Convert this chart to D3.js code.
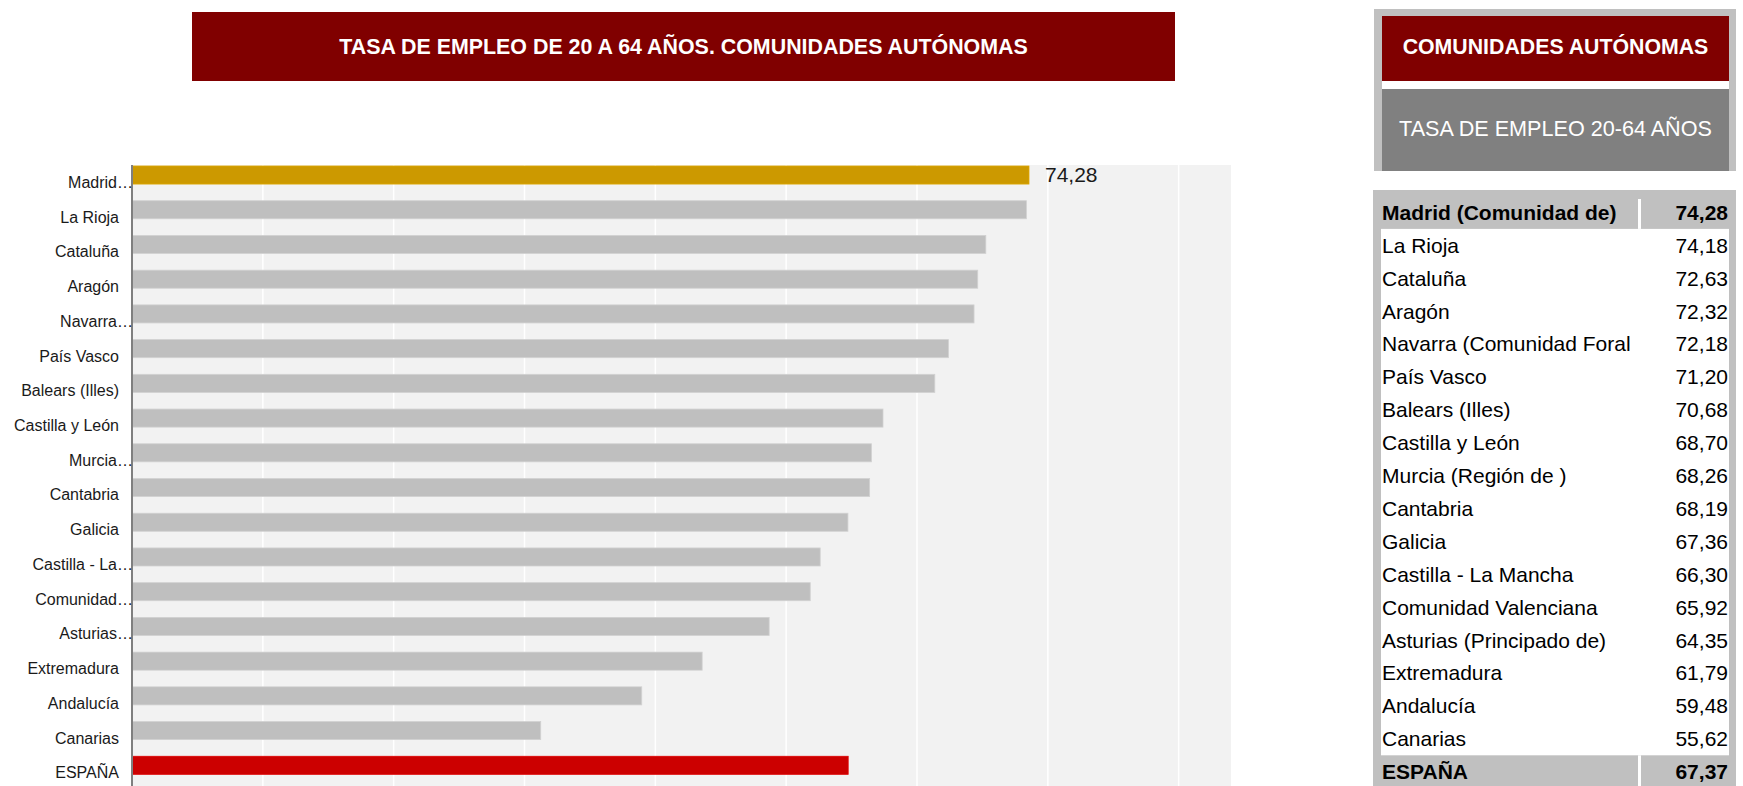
<!DOCTYPE html>
<html>
<head>
<meta charset="utf-8">
<script src="https://cdn.jsdelivr.net/npm/d3@7"></script>
<style>
  html, body { margin: 0; padding: 0; background: #ffffff; }
  svg { display: block; font-family: "Liberation Sans", Arial, sans-serif; }
</style>
</head>
<body>
<svg id="chart" width="1743" height="786"></svg>
<script>
// ---- data ----
const categories = ["Madrid (Comunidad de)", "La Rioja", "Cataluña", "Aragón",
  "Navarra (Comunidad Foral de)", "País Vasco", "Balears (Illes)", "Castilla y León",
  "Murcia (Región de )", "Cantabria", "Galicia", "Castilla - La Mancha",
  "Comunidad Valenciana", "Asturias (Principado de)", "Extremadura", "Andalucía",
  "Canarias", "ESPAÑA"];
const axisLabels = ["Madrid…", "La Rioja", "Cataluña", "Aragón", "Navarra…", "País Vasco",
  "Balears (Illes)", "Castilla y León", "Murcia…", "Cantabria", "Galicia", "Castilla - La…",
  "Comunidad…", "Asturias…", "Extremadura", "Andalucía", "Canarias", "ESPAÑA"];
const values = [74.28, 74.18, 72.63, 72.32, 72.18, 71.20, 70.68, 68.70, 68.26, 68.19,
  67.36, 66.30, 65.92, 64.35, 61.79, 59.48, 55.62, 67.37];
const valueLabels = ["74,28", "74,18", "72,63", "72,32", "72,18", "71,20", "70,68", "68,70",
  "68,26", "68,19", "67,36", "66,30", "65,92", "64,35", "61,79", "59,48", "55,62", "67,37"];
const xTicks = [45, 50, 55, 60, 65, 70, 75, 80];
const xDomain = [40, 82];
const chartTitle = "TASA DE EMPLEO DE 20 A 64 AÑOS. COMUNIDADES AUTÓNOMAS";
const panelTitle = "COMUNIDADES AUTÓNOMAS";
const panelSubtitle = "TASA DE EMPLEO 20-64 AÑOS";

const svg = d3.select("#chart");
const rows = categories.map((c, i) => ({ cat: c, label: axisLabels[i], v: values[i], txt: valueLabels[i], i }));

// ---- main title ----
svg.append("rect").attr("x", 192).attr("y", 12).attr("width", 983).attr("height", 69).attr("fill", "#800000");
svg.append("text").attr("x", 683.5).attr("y", 47).attr("dy", "0.35em")
  .attr("text-anchor", "middle").attr("fill", "#fff").attr("font-weight", "bold")
  .attr("font-size", 21.4).text(chartTitle);

// ---- chart ----
const plot = { left: 132, right: 1231, top: 165, bottom: 790 };
const x = d3.scaleLinear().domain(xDomain).range([plot.left, plot.right]);
const y = d3.scaleBand().domain(categories).range([plot.top, plot.bottom]);

svg.append("rect").attr("x", plot.left).attr("y", plot.top)
  .attr("width", plot.right - plot.left).attr("height", plot.bottom - plot.top).attr("fill", "#f2f2f2");

svg.append("g").selectAll("line").data(xTicks).join("line")
  .attr("x1", d => x(d)).attr("x2", d => x(d))
  .attr("y1", plot.top).attr("y2", plot.bottom)
  .attr("stroke", "#ffffff").attr("stroke-width", 1.5);

const barColor = d => d.i === 0 ? "#cc9900" : (d.cat === "ESPAÑA" ? "#cc0000" : "#bfbfbf");
svg.append("g").selectAll("rect").data(rows).join("rect")
  .attr("x", x(xDomain[0]))
  .attr("y", d => y(d.cat) + 1)
  .attr("width", d => x(d.v) - x(xDomain[0]))
  .attr("height", y.bandwidth() * 0.52)
  .attr("fill", barColor)
  .attr("stroke", d => d3.color(barColor(d)).brighter(0.25))
  .attr("stroke-width", 0.8);

// value label (only first)
svg.append("text")
  .attr("x", x(values[0]) + 16)
  .attr("y", y(categories[0]) + 1 + y.bandwidth() * 0.26)
  .attr("dy", "0.35em").attr("font-size", 21).attr("fill", "#1a1a1a")
  .text(valueLabels[0]);

// axis line
svg.append("line").attr("x1", plot.left).attr("x2", plot.left)
  .attr("y1", plot.top).attr("y2", plot.bottom)
  .attr("stroke", "#7f7f7f").attr("stroke-width", 2);

// category labels
svg.append("g").selectAll("text").data(rows).join("text")
  .attr("x", d => d.label.endsWith("…") ? plot.left + 1 : plot.left - 13)
  .attr("y", d => y(d.cat) + y.bandwidth() / 2)
  .attr("dy", "0.35em").attr("text-anchor", "end")
  .attr("font-size", 16).attr("fill", "#1a1a1a")
  .text(d => d.label);

// ---- right panel ----
svg.append("rect").attr("x", 1374).attr("y", 9).attr("width", 362).attr("height", 162).attr("fill", "#c0c0c0");
svg.append("rect").attr("x", 1382).attr("y", 16).attr("width", 347).attr("height", 65).attr("fill", "#800000");
svg.append("rect").attr("x", 1382).attr("y", 81).attr("width", 347).attr("height", 8).attr("fill", "#ffffff");
svg.append("rect").attr("x", 1382).attr("y", 89).attr("width", 347).attr("height", 82).attr("fill", "#808080");
svg.append("text").attr("x", 1555.5).attr("y", 47).attr("dy", "0.35em").attr("text-anchor", "middle")
  .attr("fill", "#fff").attr("font-weight", "bold").attr("font-size", 21.3).text(panelTitle);
svg.append("text").attr("x", 1555.5).attr("y", 128).attr("dy", "0.35em").attr("text-anchor", "middle")
  .attr("fill", "#fff").attr("font-size", 21.6).text(panelSubtitle);

// ---- table ----
const t = d3.scaleBand().domain(categories).range([196, 196 + 32.9 * categories.length]);
const tbl = { left: 1373, right: 1736, innerL: 1381, innerR: 1729, sep: 1638 };
svg.append("rect").attr("x", tbl.left).attr("y", 190).attr("width", tbl.right - tbl.left)
  .attr("height", 786 - 190).attr("fill", "#c0c0c0");
const firstCat = categories[0], lastCat = categories[categories.length - 1];
svg.append("rect").attr("x", tbl.innerL).attr("y", t(firstCat) + t.bandwidth())
  .attr("width", tbl.innerR - tbl.innerL)
  .attr("height", t(lastCat) - (t(firstCat) + t.bandwidth()))
  .attr("fill", "#ffffff");
// separators in highlighted rows
svg.append("rect").attr("x", tbl.sep).attr("y", 199).attr("width", 3)
  .attr("height", t(firstCat) + t.bandwidth() - 199).attr("fill", "#ffffff");
svg.append("rect").attr("x", tbl.sep).attr("y", t(lastCat)).attr("width", 3)
  .attr("height", 786 - t(lastCat)).attr("fill", "#ffffff");

svg.append("defs").append("clipPath").attr("id", "nameclip")
  .append("rect").attr("x", 1378).attr("y", 180).attr("width", 1634 - 1378).attr("height", 620);

const bold = d => d.i === 0 || d.i === categories.length - 1;
svg.append("g").attr("clip-path", "url(#nameclip)").selectAll("text").data(rows).join("text")
  .attr("x", 1382).attr("y", d => t(d.cat) + t.bandwidth() / 2)
  .attr("dy", "0.35em").attr("font-size", 21).attr("fill", "#000")
  .attr("font-weight", d => bold(d) ? "bold" : "normal")
  .text(d => d.cat);
svg.append("g").selectAll("text").data(rows).join("text")
  .attr("x", 1728).attr("y", d => t(d.cat) + t.bandwidth() / 2)
  .attr("dy", "0.35em").attr("text-anchor", "end").attr("font-size", 21).attr("fill", "#000")
  .attr("font-weight", d => bold(d) ? "bold" : "normal")
  .text(d => d.txt);
</script>
</body>
</html>
